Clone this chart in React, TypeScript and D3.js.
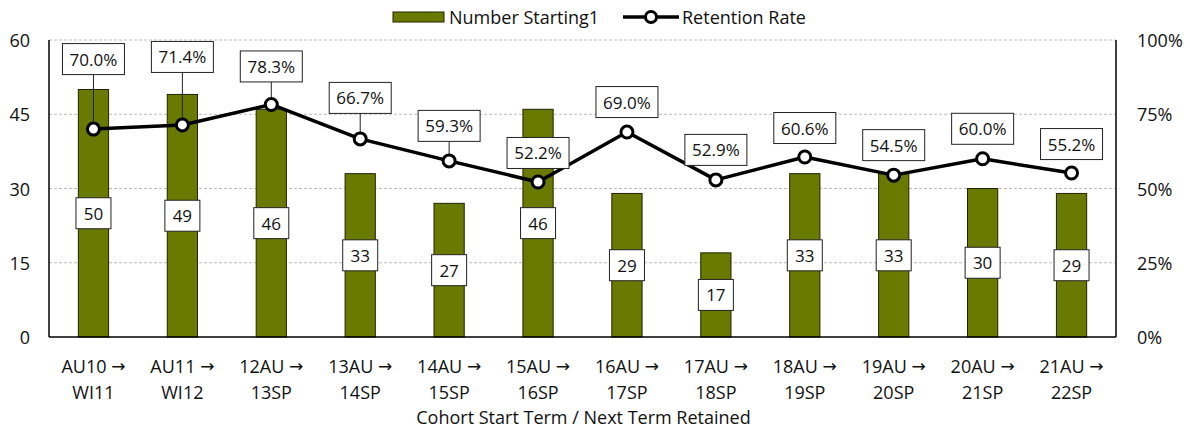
import { useMemo } from 'react';
import * as d3 from 'd3';

const WIDTH = 1190;
const HEIGHT = 431;
const MARGIN = { top: 40, right: 74, bottom: 94, left: 49 };

const FONT = '"Open Sans", "Noto Sans", sans-serif';
const FS = 18;
const LABEL_FS = 17;

// data
const categoriesTop = ['AU10', 'AU11', '12AU', '13AU', '14AU', '15AU', '16AU', '17AU', '18AU', '19AU', '20AU', '21AU'];
const categoriesBottom = ['WI11', 'WI12', '13SP', '14SP', '15SP', '16SP', '17SP', '18SP', '19SP', '20SP', '21SP', '22SP'];
const numberStarting = [50, 49, 46, 33, 27, 46, 29, 17, 33, 33, 30, 29];
const retentionRate = [0.7, 0.714, 0.783, 0.667, 0.593, 0.522, 0.69, 0.529, 0.606, 0.545, 0.6, 0.552];
const leftTicks = [0, 15, 30, 45, 60];
const rightTicks = [0, 0.25, 0.5, 0.75, 1];

// how far (px) each percentage label sits above its point (manually placed in the original)
const rateLabelLift = [70, 68, 38, 41, 35, 29, 30, 30, 29, 30, 30, 29];

const BAR_FILL = '#697a00';
const BAR_STROKE = '#222200';

type Point = { i: number; v: number };

const LabelBox = ({ x, y, text, w }: { x: number; y: number; text: string; w: number }) => {
  const h = 31;
  return (
    <g>
      <rect x={x - w / 2} y={y - h / 2} width={w} height={h} fill="white" stroke="#222" strokeWidth={1} />
      <text x={x} y={y} textAnchor="middle" dominantBaseline="central" fontSize={LABEL_FS} fontFamily={FONT} fill="#111">
        {text}
      </text>
    </g>
  );
};

export default function App() {
  const boundsWidth = WIDTH - MARGIN.left - MARGIN.right;
  const boundsHeight = HEIGHT - MARGIN.top - MARGIN.bottom;

  const xScale = useMemo(
    () => d3.scaleBand<number>().domain(d3.range(numberStarting.length)).range([0, boundsWidth]).paddingInner(0.66).paddingOuter(0.33),
    [boundsWidth]
  );
  const yLeft = useMemo(() => d3.scaleLinear().domain([0, 60]).range([boundsHeight, 0]), [boundsHeight]);
  const yRight = useMemo(() => d3.scaleLinear().domain([0, 1]).range([boundsHeight, 0]), [boundsHeight]);

  const cx = (i: number) => (xScale(i) || 0) + xScale.bandwidth() / 2;

  const points: Point[] = retentionRate.map((v, i) => ({ i, v }));
  const lineBuilder = d3
    .line<Point>()
    .x((d) => cx(d.i))
    .y((d) => yRight(d.v));
  const linePath = lineBuilder(points) || '';

  const pct = d3.format('.1%');

  return (
    <svg width={WIDTH} height={HEIGHT} style={{ position: 'absolute', left: 0, top: 0, background: 'white' }}>
      {/* legend */}
      <g fontFamily={FONT} fontSize={FS} fill="#111">
        <rect x={393} y={12} width={51} height={10} fill={BAR_FILL} stroke={BAR_STROKE} strokeWidth={1} />
        <text x={449} y={17} dominantBaseline="central">Number Starting1</text>
        <line x1={623} x2={679} y1={17} y2={17} stroke="black" strokeWidth={3.5} />
        <circle cx={651} cy={17} r={5.5} fill="white" stroke="black" strokeWidth={3} />
        <text x={682} y={17} dominantBaseline="central">Retention Rate</text>
      </g>

      <g transform={`translate(${MARGIN.left},${MARGIN.top})`}>
        {/* gridlines */}
        {leftTicks.filter((t) => t > 0).map((t) => (
          <line key={t} x1={0} x2={boundsWidth} y1={yLeft(t)} y2={yLeft(t)} stroke="#bdbdbd" strokeDasharray="3,2" strokeWidth={1} />
        ))}

        {/* bars */}
        {numberStarting.map((v, i) => (
          <rect
            key={i}
            x={xScale(i)}
            y={yLeft(v)}
            width={xScale.bandwidth()}
            height={boundsHeight - yLeft(v)}
            fill={BAR_FILL}
            stroke={BAR_STROKE}
            strokeWidth={1}
          />
        ))}

        {/* axes frame */}
        <line x1={0} x2={0} y1={0} y2={boundsHeight} stroke="black" strokeWidth={1.5} />
        <line x1={boundsWidth} x2={boundsWidth} y1={0} y2={boundsHeight} stroke="black" strokeWidth={1.5} />
        <line x1={0} x2={boundsWidth} y1={boundsHeight} y2={boundsHeight} stroke="black" strokeWidth={1.5} />

        {/* bar labels */}
        {numberStarting.map((v, i) => (
          <LabelBox key={i} x={cx(i)} y={yLeft(v / 2)} text={String(v)} w={35} />
        ))}

        {/* leader lines */}
        {points.map((d) => {
          const lift = rateLabelLift[d.i];
          if (lift < 33) return null;
          const y = yRight(d.v);
          return <line key={d.i} x1={cx(d.i)} x2={cx(d.i)} y1={y - lift + 15.5} y2={y} stroke="#222" strokeWidth={1} />;
        })}

        {/* line */}
        <path d={linePath} fill="none" stroke="black" strokeWidth={3.5} strokeLinejoin="round" />
        {points.map((d) => (
          <circle key={d.i} cx={cx(d.i)} cy={yRight(d.v)} r={6} fill="white" stroke="black" strokeWidth={3} />
        ))}

        {/* rate labels */}
        {points.map((d) => (
          <LabelBox key={d.i} x={cx(d.i)} y={yRight(d.v) - rateLabelLift[d.i]} text={pct(d.v)} w={62} />
        ))}

        {/* left ticks */}
        {leftTicks.map((t) => (
          <text key={t} x={-19} y={yLeft(t)} textAnchor="end" dominantBaseline="central" fontSize={FS} fontFamily={FONT} fill="#111">
            {t}
          </text>
        ))}
        {/* right ticks */}
        {rightTicks.map((t) => (
          <text key={t} x={boundsWidth + 21} y={yRight(t)} dominantBaseline="central" fontSize={FS} fontFamily={FONT} fill="#111">
            {d3.format('.0%')(t)}
          </text>
        ))}

        {/* x labels */}
        {categoriesTop.map((c, i) => (
          <g key={i} fontSize={FS} fontFamily={FONT} fill="#111" textAnchor="middle">
            <text x={cx(i)} y={boundsHeight + 29} dominantBaseline="central">
              {c + ' '}
              <tspan fontFamily='"DejaVu Sans", sans-serif' fontSize={17}>→</tspan>
            </text>
            <text x={cx(i)} y={boundsHeight + 55} dominantBaseline="central">{categoriesBottom[i]}</text>
          </g>
        ))}
        <text x={boundsWidth / 2 + 1} y={boundsHeight + 80} textAnchor="middle" dominantBaseline="central" fontSize={FS} fontFamily={FONT} fill="#111">
          Cohort Start Term / Next Term Retained
        </text>
      </g>
    </svg>
  );
}
